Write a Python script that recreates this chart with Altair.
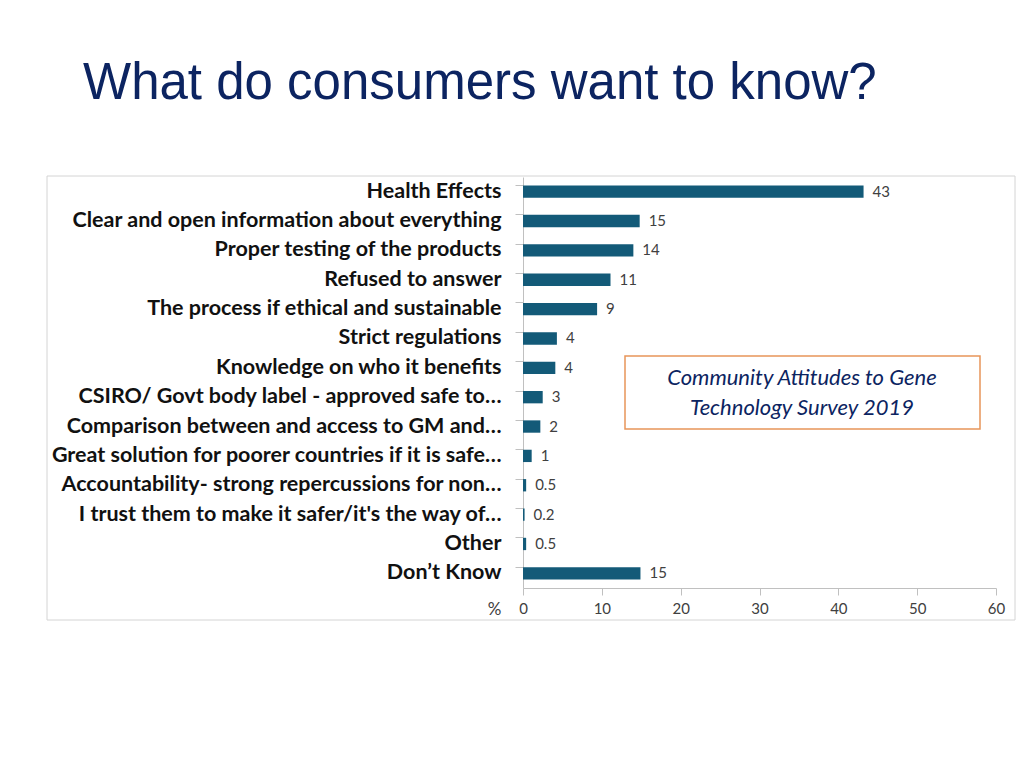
import altair as alt
import pandas as pd

categories = [
    "Health Effects",
    "Clear and open information about everything",
    "Proper testing of the products",
    "Refused to answer",
    "The process if ethical and sustainable",
    "Strict regulations",
    "Knowledge on who it benefits",
    "CSIRO/ Govt body label - approved safe to…",
    "Comparison between and access to GM and…",
    "Great solution for poorer countries if it is safe…",
    "Accountability- strong repercussions for non…",
    "I trust them to make it safer/it's the way of…",
    "Other",
    "Don’t Know",
]
pct = [43.2, 14.8, 14.0, 11.1, 9.4, 4.3, 4.1, 2.5, 2.2, 1.1, 0.4, 0.2, 0.4, 14.9]
pct_label = ["43", "15", "14", "11", "9", "4", "4", "3", "2", "1", "0.5", "0.2", "0.5", "15"]
x_ticks = [0, 10, 20, 30, 40, 50, 60]
note_lines = ["Community Attitudes to Gene", "Technology Survey 2019"]

df = pd.DataFrame({"cat": categories, "pct": pct, "lab": pct_label})

W, H = 473, 411
BAR = "#135a78"

y_enc = alt.Y(
    "cat:N",
    sort=categories,
    scale=alt.Scale(paddingInner=0.58, paddingOuter=0.29),
    axis=alt.Axis(
        title=None,
        bandPosition=0,
        labelFont="Lato",
        labelFontWeight="bold",
        labelFontSize=21.5,
        labelColor="#111111",
        labelLimit=0,
        labelPadding=14,
        tickSize=8,
        tickColor="#c0c0c0",
        domainColor="#c0c0c0",
        labelBaseline="middle",
    ),
)

bars = alt.Chart(df).mark_bar(color=BAR).encode(
    x=alt.X(
        "pct:Q",
        scale=alt.Scale(domain=[0, 60], nice=False),
        axis=alt.Axis(
            values=x_ticks,
            title="%",
            titleAngle=0,
            titleX=-29,
            titleY=21,
            titleBaseline="middle",
            titleFont="Lato",
            titleFontWeight="normal",
            titleFontSize=17,
            titleColor="#404040",
            labelFont="Lato",
            labelFontSize=15,
            labelColor="#404040",
            labelPadding=6,
            labelFlush=False,
            tickSize=7,
            tickColor="#c0c0c0",
            domainColor="#c0c0c0",
            grid=False,
        ),
    ),
    y=y_enc,
)

labels = alt.Chart(df).mark_text(
    align="left", baseline="middle", dx=9, font="Lato", fontSize=15, color="#404040"
).encode(x="pct:Q", y=alt.Y("cat:N", sort=categories), text="lab:N")

frame = alt.Chart(pd.DataFrame({"k": [0]})).mark_rect(
    fill=None, stroke="#d4d4d4", strokeWidth=1, clip=False
).encode(x=alt.value(-476), x2=alt.value(492), y=alt.value(-1), y2=alt.value(443))

note_box = alt.Chart(pd.DataFrame({"k": [0]})).mark_rect(
    fill="white", stroke="#e8955a", strokeWidth=1.5
).encode(x=alt.value(102), x2=alt.value(457), y=alt.value(179), y2=alt.value(252))

note_style = dict(font="Lato", fontStyle="italic", fontSize=22, color="#0c2461",
                  align="center", baseline="middle")
note1 = alt.Chart(pd.DataFrame({"t": [note_lines[0]]})).mark_text(**note_style).encode(
    x=alt.value(279), y=alt.value(201), text="t:N"
)
note2 = alt.Chart(pd.DataFrame({"t": [note_lines[1]]})).mark_text(**note_style).encode(
    x=alt.value(279), y=alt.value(231), text="t:N"
)

chart = (
    alt.layer(frame, bars, labels, note_box, note1, note2)
    .properties(
        width=W,
        height=H,
        autosize=alt.AutoSizeParams(type="none"),
        padding={"left": 515, "top": 169, "right": 20, "bottom": 160},
        title=alt.TitleParams(
            "What do consumers want to know?",
            anchor="start",
            frame="group",
            dx=-440,
            offset=66,
            font="Liberation Sans",
            fontSize=51,
            fontWeight="normal",
            color="#0c2461",
        ),
    )
    .configure_view(stroke=None)
)

chart.save("out.html", embed_options={"renderer": "svg", "actions": False})
